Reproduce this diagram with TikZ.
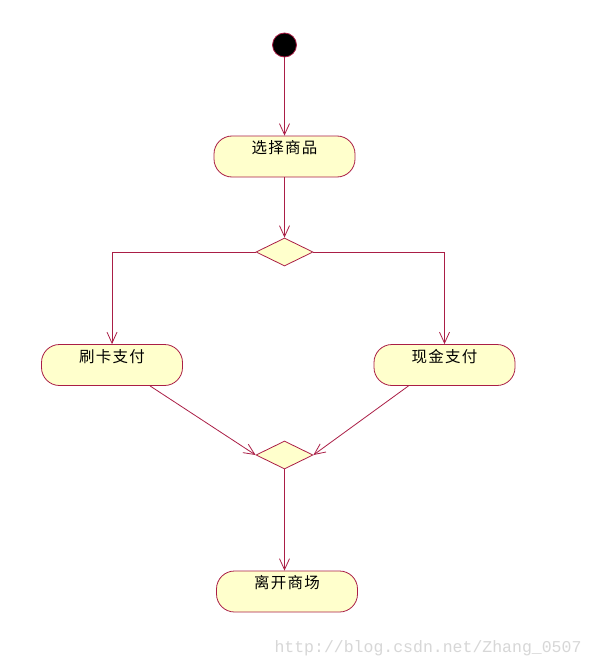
\documentclass[tikz,border=0pt]{standalone}
\usepackage{fontspec}
\newfontfamily\cjk[LetterSpace=8]{Noto Sans CJK SC}
\setmonofont{Liberation Mono}
\usetikzlibrary{arrows.meta,shapes.geometric}
\definecolor{edgec}{RGB}{170,30,70}
\definecolor{fillc}{RGB}{255,255,204}
\definecolor{wm}{RGB}{215,215,215}
\begin{document}
\begin{tikzpicture}[x=1pt,y=-1pt,
  act/.style={draw=edgec, fill=fillc, line width=0.8pt, rounded corners=18pt,
    minimum width=141pt, minimum height=41pt, inner sep=0pt,
    text height=17.5pt, text depth=23.5pt, font=\cjk\fontsize{15.5}{15.5}\selectfont},
  dec/.style={diamond, draw=edgec, fill=fillc, line width=0.8pt, aspect=2,
    minimum width=57pt, minimum height=28pt, inner sep=0pt},
  startn/.style={circle, draw=edgec, fill=black, line width=0.8pt,
    minimum size=24pt, inner sep=0pt},
  arr/.style={draw=edgec, line width=0.8pt, -{Straight Barb[length=11pt,width=10pt]}}]
\useasboundingbox (0,0) rectangle (592,666);
\fill[white] (0,0) rectangle (592,666);
\node[startn] (start) at (284.5,45) {};
\node[act] (sel) at (284.5,156.5) {选择商品};
\node[dec] (d1) at (284.5,252) {};
\node[act] (card) at (112,365) {刷卡支付};
\node[act] (cash) at (444.5,365) {现金支付};
\node[dec] (d2) at (284.5,455) {};
\node[act] (leave) at (287,591.5) {离开商场};
\node[wm, font=\ttfamily\fontsize{16.5}{16.5}\selectfont, anchor=base west] (wmark) at (271,652) {http://blog.csdn.net/Zhang\_0507};
\draw[arr] (start) -- (sel);
\draw[arr] (sel) -- (d1);
\draw[arr] (d1.west) -| (card.north);
\draw[arr] (d1.east) -| (cash.north);
\draw[arr] ([xshift=38pt]card.south) -- (d2.west);
\draw[arr] ([xshift=-36pt]cash.south) -- (d2.east);
\draw[arr] (d2.south) -- (d2.south |- leave.north);
\end{tikzpicture}
\end{document}
